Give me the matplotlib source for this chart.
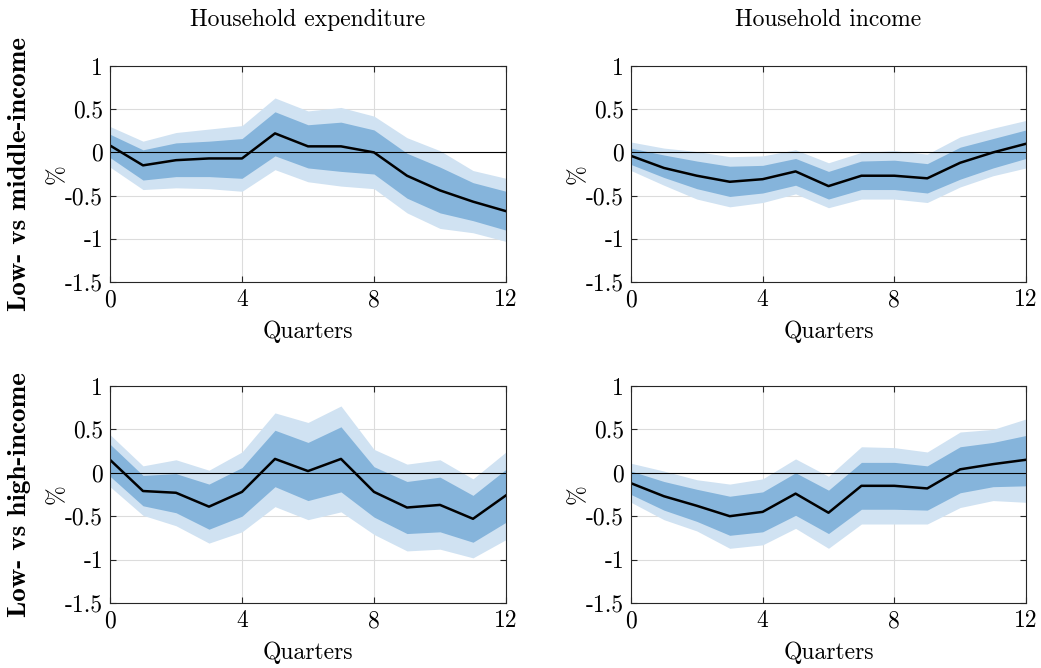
import matplotlib
matplotlib.use('Agg')
import matplotlib.pyplot as plt
import numpy as np

plt.rcParams['font.family'] = ['cmr10', 'DejaVu Serif']
plt.rcParams['mathtext.fontset'] = 'cm'
plt.rcParams['axes.unicode_minus'] = False

# --- Data ---
quarters = np.arange(13)

col_titles = ['Household expenditure', 'Household income']
row_labels = ['Low- vs middle-income', 'Low- vs high-income']

# top-left: expenditure, low vs middle
exp_mid_med = [0.08, -0.15, -0.09, -0.07, -0.07, 0.22, 0.07, 0.07, 0.00, -0.27, -0.44, -0.57, -0.68]
exp_mid_in_hi = [0.21, 0.03, 0.11, 0.13, 0.16, 0.47, 0.32, 0.35, 0.26, -0.01, -0.17, -0.35, -0.45]
exp_mid_in_lo = [-0.06, -0.32, -0.28, -0.28, -0.30, -0.04, -0.18, -0.22, -0.25, -0.53, -0.70, -0.79, -0.90]
exp_mid_out_hi = [0.30, 0.13, 0.23, 0.27, 0.31, 0.63, 0.48, 0.52, 0.42, 0.17, 0.02, -0.21, -0.30]
exp_mid_out_lo = [-0.17, -0.43, -0.41, -0.42, -0.45, -0.20, -0.34, -0.39, -0.42, -0.70, -0.88, -0.93, -1.03]

# top-right: income, low vs middle
inc_mid_med = [-0.04, -0.18, -0.27, -0.34, -0.31, -0.22, -0.39, -0.27, -0.27, -0.30, -0.12, 0.00, 0.10]
inc_mid_in_hi = [0.05, -0.03, -0.10, -0.16, -0.15, -0.07, -0.22, -0.10, -0.09, -0.13, 0.06, 0.16, 0.26]
inc_mid_in_lo = [-0.14, -0.29, -0.42, -0.51, -0.47, -0.38, -0.54, -0.43, -0.43, -0.47, -0.31, -0.18, -0.07]
inc_mid_out_hi = [0.12, 0.05, 0.01, -0.05, -0.04, 0.03, -0.12, 0.00, 0.02, -0.02, 0.18, 0.28, 0.37]
inc_mid_out_lo = [-0.21, -0.38, -0.54, -0.63, -0.58, -0.48, -0.64, -0.54, -0.54, -0.58, -0.40, -0.27, -0.18]

# bottom-left: expenditure, low vs high
exp_high_med = [0.15, -0.21, -0.23, -0.39, -0.22, 0.16, 0.02, 0.16, -0.22, -0.40, -0.37, -0.53, -0.26]
exp_high_in_hi = [0.33, -0.03, -0.01, -0.13, 0.06, 0.49, 0.35, 0.53, 0.07, -0.10, -0.05, -0.26, 0.04]
exp_high_in_lo = [-0.04, -0.38, -0.46, -0.65, -0.50, -0.16, -0.32, -0.22, -0.51, -0.70, -0.68, -0.80, -0.57]
exp_high_out_hi = [0.44, 0.08, 0.15, 0.03, 0.24, 0.69, 0.58, 0.77, 0.27, 0.10, 0.15, -0.07, 0.24]
exp_high_out_lo = [-0.16, -0.49, -0.61, -0.81, -0.68, -0.39, -0.54, -0.45, -0.71, -0.90, -0.88, -0.98, -0.77]

# bottom-right: income, low vs high
inc_high_med = [-0.12, -0.27, -0.38, -0.50, -0.45, -0.24, -0.46, -0.15, -0.15, -0.18, 0.04, 0.10, 0.15]
inc_high_in_hi = [0.02, -0.10, -0.19, -0.27, -0.22, 0.00, -0.20, 0.12, 0.12, 0.08, 0.30, 0.35, 0.43]
inc_high_in_lo = [-0.25, -0.43, -0.56, -0.72, -0.68, -0.49, -0.70, -0.42, -0.42, -0.43, -0.23, -0.16, -0.15]
inc_high_out_hi = [0.11, 0.02, -0.08, -0.13, -0.07, 0.16, -0.04, 0.30, 0.29, 0.24, 0.47, 0.50, 0.62]
inc_high_out_lo = [-0.34, -0.54, -0.67, -0.87, -0.83, -0.64, -0.87, -0.59, -0.59, -0.59, -0.40, -0.32, -0.34]

panels = [
    [(exp_mid_med, exp_mid_in_lo, exp_mid_in_hi, exp_mid_out_lo, exp_mid_out_hi),
     (inc_mid_med, inc_mid_in_lo, inc_mid_in_hi, inc_mid_out_lo, inc_mid_out_hi)],
    [(exp_high_med, exp_high_in_lo, exp_high_in_hi, exp_high_out_lo, exp_high_out_hi),
     (inc_high_med, inc_high_in_lo, inc_high_in_hi, inc_high_out_lo, inc_high_out_hi)],
]

y_ticks = [1, 0.5, 0, -0.5, -1, -1.5]
y_ticklabels = ['1', '0.5', '0', '-0.5', '-1', '-1.5']
x_ticks = [0, 4, 8, 12]

light_blue = '#d0e2f2'
dark_blue = '#85b4db'

W, H = 1041, 668
fig = plt.figure(figsize=(W / 100, H / 100), dpi=100)

# axes boxes in pixels: (left, right) and (top, bottom)
col_x = [(110, 506), (631, 1026)]
row_y = [(66, 282), (386, 603)]

for r in range(2):
    for c in range(2):
        x0, x1 = col_x[c]
        y0, y1 = row_y[r]
        ax = fig.add_axes([x0 / W, 1 - y1 / H, (x1 - x0) / W, (y1 - y0) / H])
        med, in_lo, in_hi, out_lo, out_hi = panels[r][c]

        ax.fill_between(quarters, out_lo, out_hi, color=light_blue, lw=0, zorder=1)
        ax.fill_between(quarters, in_lo, in_hi, color=dark_blue, lw=0, zorder=2)
        ax.axhline(0, color='black', lw=0.8, zorder=3)
        ax.plot(quarters, med, color='black', lw=1.8, zorder=4)

        ax.set_xlim(0, 12)
        ax.set_ylim(-1.5, 1)
        ax.set_xticks(x_ticks)
        ax.set_yticks(y_ticks)
        ax.set_yticklabels(y_ticklabels)
        ax.grid(True, color='#dcdcdc', lw=0.8, zorder=0)
        ax.set_axisbelow(True)
        ax.tick_params(direction='in', top=True, right=True, length=4,
                       width=0.8, labelsize=17, color='#262626', pad=5)
        for sp in ax.spines.values():
            sp.set_color('#262626')
            sp.set_linewidth(0.8)
            sp.set_zorder(5)

        ax.set_xlabel('Quarters', fontsize=17, labelpad=7)
        ax.set_ylabel('%', fontsize=17, labelpad=-2)

for c in range(2):
    x0, x1 = col_x[c]
    fig.text((x0 + x1) / 2 / W, 1 - 20 / H, col_titles[c], ha='center', va='center',
             fontsize=17)

for r in range(2):
    y0, y1 = row_y[r]
    fig.text(20 / W, 1 - (y0 + y1) / 2 / H, row_labels[r], rotation=90,
             ha='center', va='center', fontsize=19.5,
             fontfamily=['cmb10', 'DejaVu Serif'])

fig.savefig('out.png', dpi=100)
